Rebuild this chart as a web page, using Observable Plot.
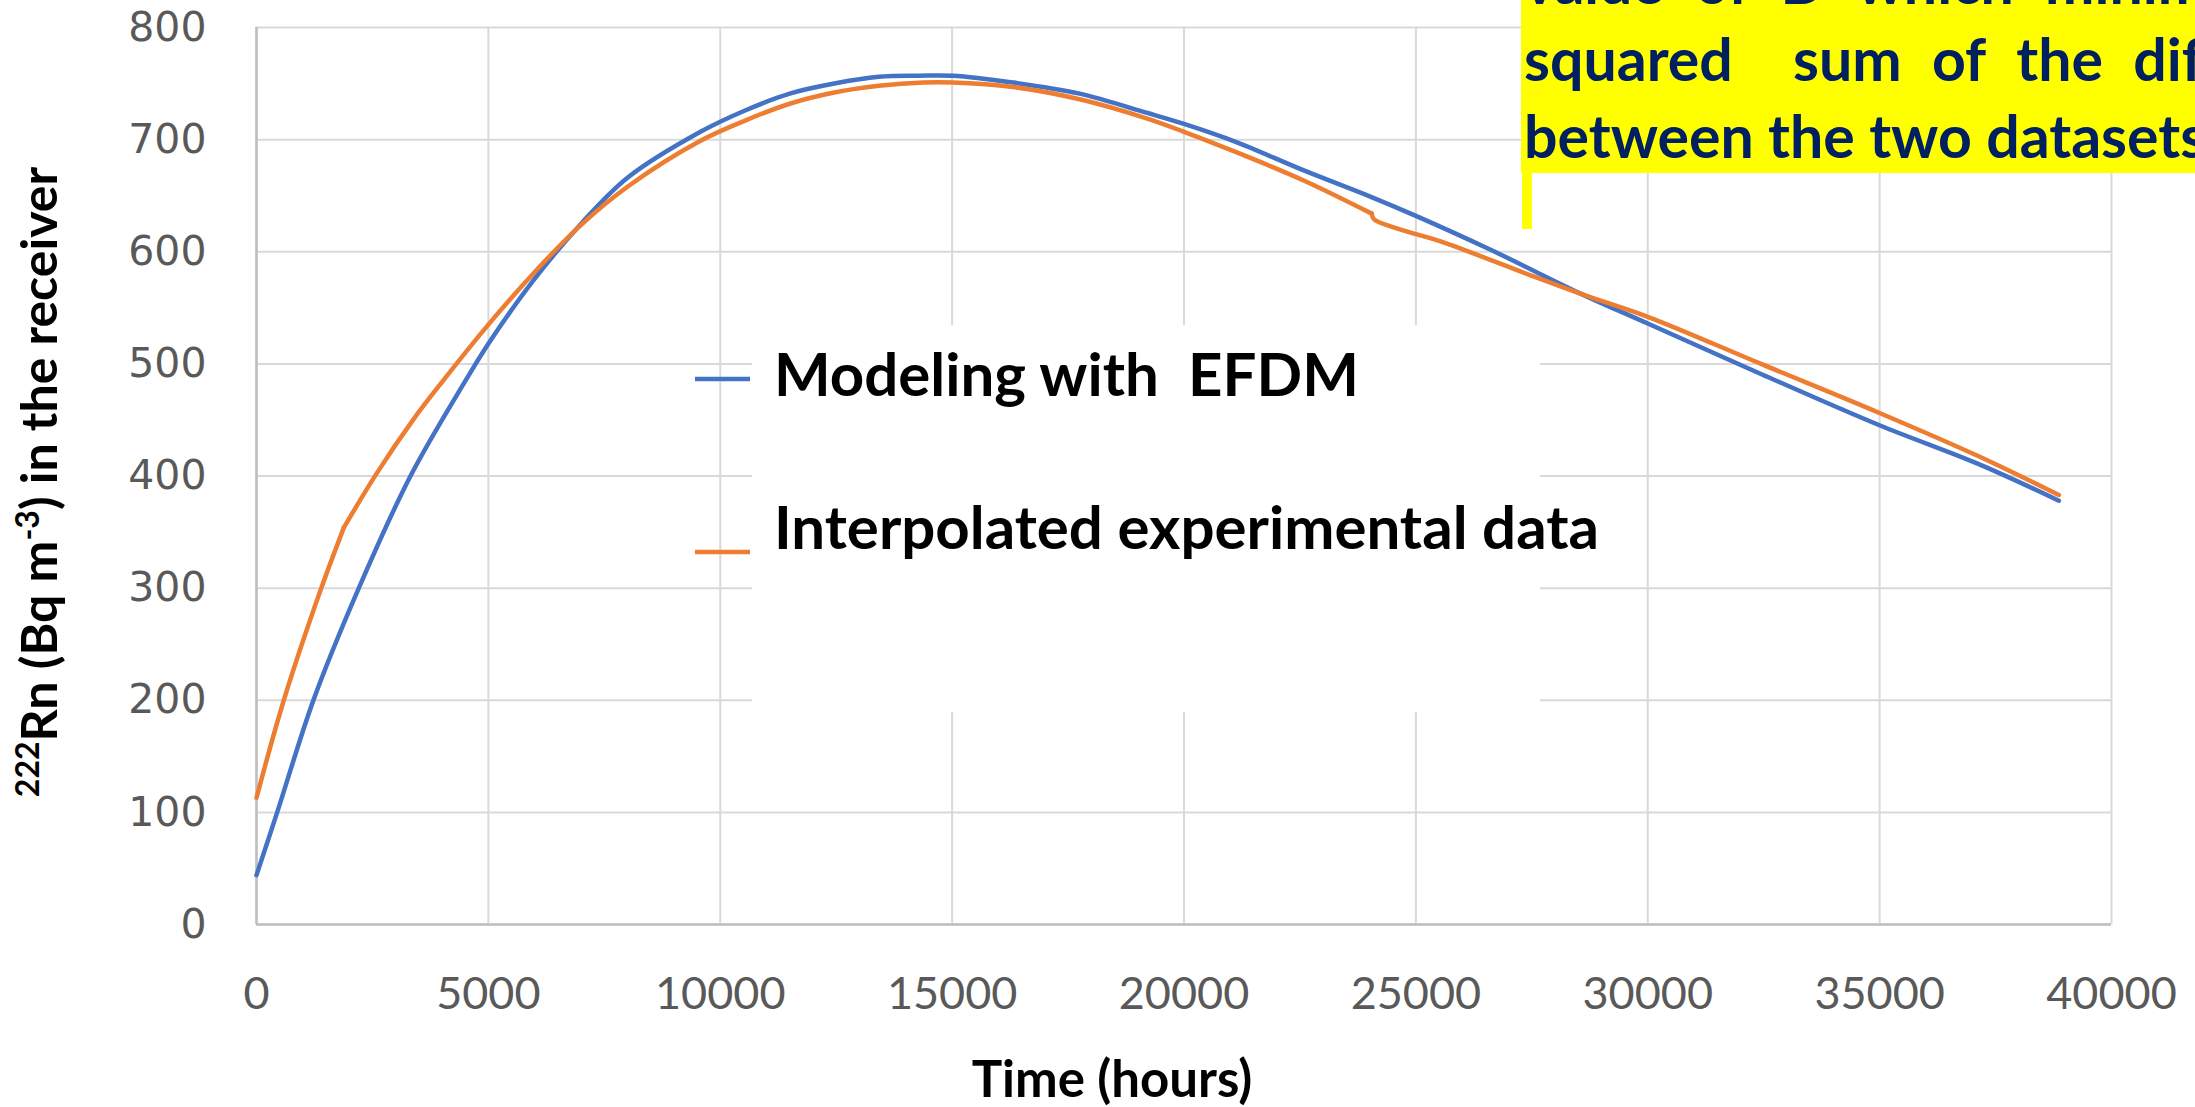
<!DOCTYPE html>
<html>
<head>
<meta charset="utf-8">
<script src="https://cdn.jsdelivr.net/npm/d3@7"></script>
<script src="https://cdn.jsdelivr.net/npm/@observablehq/plot@0.6"></script>
<style>
  html, body { margin: 0; padding: 0; background: #fff; overflow: hidden; }
  #chart { position: relative; width: 2195px; height: 1107px; }
  #chart svg { position: absolute; left: 0; top: 0; }
</style>
</head>
<body>
<div id="chart"></div>
<script>
// Modelled radon concentration in the receiver (EFDM), hours vs Bq m-3
const modelTime  = [0, 446, 1236, 2206, 3321, 4507, 5000, 6000, 7000, 8000, 9574, 10536, 11497, 12459, 13421, 14288, 15008, 16306, 17749, 19191, 20000, 21114, 22557, 24030, 25000, 26600, 28587, 30000, 32441, 35010, 37112, 38865];
const modelValue = [44, 100, 201, 300, 400, 485, 518, 576, 625, 666, 707, 726, 741, 750, 756, 757, 757, 751, 741, 724, 714, 698, 673, 649, 632, 602, 562, 536, 491, 445, 411, 378];

// Interpolated experimental concentration
const expTime  = [0, 589, 1380, 1883, 2602, 3392, 4004, 5000, 6000, 7000, 8000, 9574, 10536, 11497, 12459, 13421, 14382, 15008, 16306, 17749, 19191, 20000, 21114, 22557, 24049, 24096, 24655, 25548, 27534, 28587, 30000, 32441, 35010, 37112, 38865];
const expValue = [113, 200, 298, 354, 403, 451, 484, 535, 582, 624, 658, 699, 717, 732, 742, 748, 751, 751, 747, 736, 719, 707, 689, 664, 634, 629, 620, 609, 578, 562, 542, 500, 456, 418, 383];
// times where the experimental curve changes regime (slope breaks)
const expBreaks = [1883, 24049];

const xTicks = [0, 5000, 10000, 15000, 20000, 25000, 30000, 35000, 40000];
const yTicks = [0, 100, 200, 300, 400, 500, 600, 700, 800];

const seriesNames  = ["Modeling with  EFDM", "Interpolated experimental data"];
const seriesColors = ["#4472c4", "#ed7d31"];
const xTitle = "Time (hours)";
const noteLines = [
  "value of D which minimizes the",
  "squared  sum of the differences",
  "between the two datasets"
];

const model = modelTime.map((t, i) => ({t, v: modelValue[i]}));
const experimental = expTime.map((t, i) => ({t, v: expValue[i]}));
// split the experimental series at its slope breaks so each piece is smoothed on its own
const edges = [-Infinity, ...expBreaks, Infinity];
const experimentalPieces = [];
for (let p = 0; p < edges.length - 1; p++) {
  experimental
    .filter(d => d.t >= edges[p] && d.t <= edges[p + 1])
    .forEach(d => experimentalPieces.push({...d, piece: p}));
}

const chart = Plot.plot({
  width: 2195,
  height: 1107,
  marginLeft: 256,
  marginRight: 84,
  marginTop: 27,
  marginBottom: 183,
  style: {background: "#fff", color: "#595959"},
  x: {domain: [0, 40000]},
  y: {domain: [0, 800]},
  marks: [
    Plot.gridX(xTicks, {stroke: "#d9d9d9", strokeOpacity: 1, strokeWidth: 2}),
    Plot.gridY(yTicks, {stroke: "#d9d9d9", strokeOpacity: 1, strokeWidth: 2}),
    Plot.ruleX([0], {stroke: "#bfbfbf", strokeWidth: 2.5}),
    Plot.ruleY([0], {stroke: "#bfbfbf", strokeWidth: 2.5}),
    Plot.axisX(xTicks, {tickSize: 0, tickPadding: 53, fontSize: 45, fontFamily: "Lato", tickFormat: d3.format("d"), label: null}),
    Plot.axisY(yTicks, {tickSize: 0, tickPadding: 50, fontSize: 41, fontFamily: "DejaVu Sans", tickFormat: d3.format("d"), label: null}),
    Plot.line(model, {x: "t", y: "v", stroke: seriesColors[0], strokeWidth: 4.5, curve: "catmull-rom"}),
    Plot.line(experimentalPieces, {x: "t", y: "v", z: "piece", stroke: seriesColors[1], strokeWidth: 4.5, curve: "catmull-rom", strokeLinecap: "round"})
  ]
});
document.getElementById("chart").append(chart);

// Overlay layer: legend panel, axis titles and the yellow callout
const ov = d3.select("#chart").append("svg")
  .attr("width", 2195).attr("height", 1107)
  .style("font-family", "Lato, sans-serif")
  .style("font-weight", 700);

// legend panel
ov.append("rect").attr("x", 752).attr("y", 325).attr("width", 788).attr("height", 387).attr("fill", "#fff");
const legendRows = [{y: 379, base: 396}, {y: 552, base: 549}];
legendRows.forEach((r, i) => {
  ov.append("line").attr("x1", 695).attr("x2", 750).attr("y1", r.y).attr("y2", r.y)
    .attr("stroke", seriesColors[i]).attr("stroke-width", 4.5);
  ov.append("text").attr("x", 774).attr("y", r.base)
    .style("white-space", "pre").attr("font-size", 60).attr("fill", "#000")
    .text(seriesNames[i]);
});

// y-axis title with superscripts
const yt = ov.append("text")
  .attr("transform", "translate(57,482) rotate(-90)")
  .attr("text-anchor", "middle").attr("font-size", 50).attr("fill", "#000");
yt.append("tspan").attr("font-size", 32).attr("dy", -18).text("222");
yt.append("tspan").attr("dy", 18).text("Rn (Bq m");
yt.append("tspan").attr("font-size", 32).attr("dy", -18).text("-3");
yt.append("tspan").attr("dy", 18).text(") in the receiver");

// x-axis title
ov.append("text").attr("x", 1112).attr("y", 1097).attr("text-anchor", "middle")
  .attr("font-size", 51).attr("fill", "#000").text(xTitle);

// yellow callout with justified text
ov.append("rect").attr("x", 1521).attr("y", -20).attr("width", 800).attr("height", 193).attr("fill", "#ffff00");
ov.append("rect").attr("x", 1522).attr("y", 172).attr("width", 10).attr("height", 57).attr("fill", "#ffff00");
const noteX = 1524, noteW = 900, noteBase = [4, 81, 158];
const note = ov.append("g").attr("font-size", 59).attr("fill", "#002060");
const probe = note.append("text").text("a b");
const probe2 = note.append("text").text("ab");
const spaceW = probe.node().getComputedTextLength() - probe2.node().getComputedTextLength();
probe.remove(); probe2.remove();
noteLines.forEach((line, li) => {
  const words = line.split(" ");
  const nodes = words.map(w => note.append("text").attr("y", noteBase[li]).text(w));
  const widths = nodes.map(n => n.node().getComputedTextLength());
  const gaps = words.length - 1;
  const natural = d3.sum(widths) + gaps * spaceW;
  const justify = li < noteLines.length - 1;
  const gap = justify ? spaceW + Math.max(0, noteW - natural) / gaps : spaceW;
  let x = noteX;
  nodes.forEach((n, i) => { n.attr("x", x); x += widths[i] + gap; });
});
</script>
</body>
</html>
